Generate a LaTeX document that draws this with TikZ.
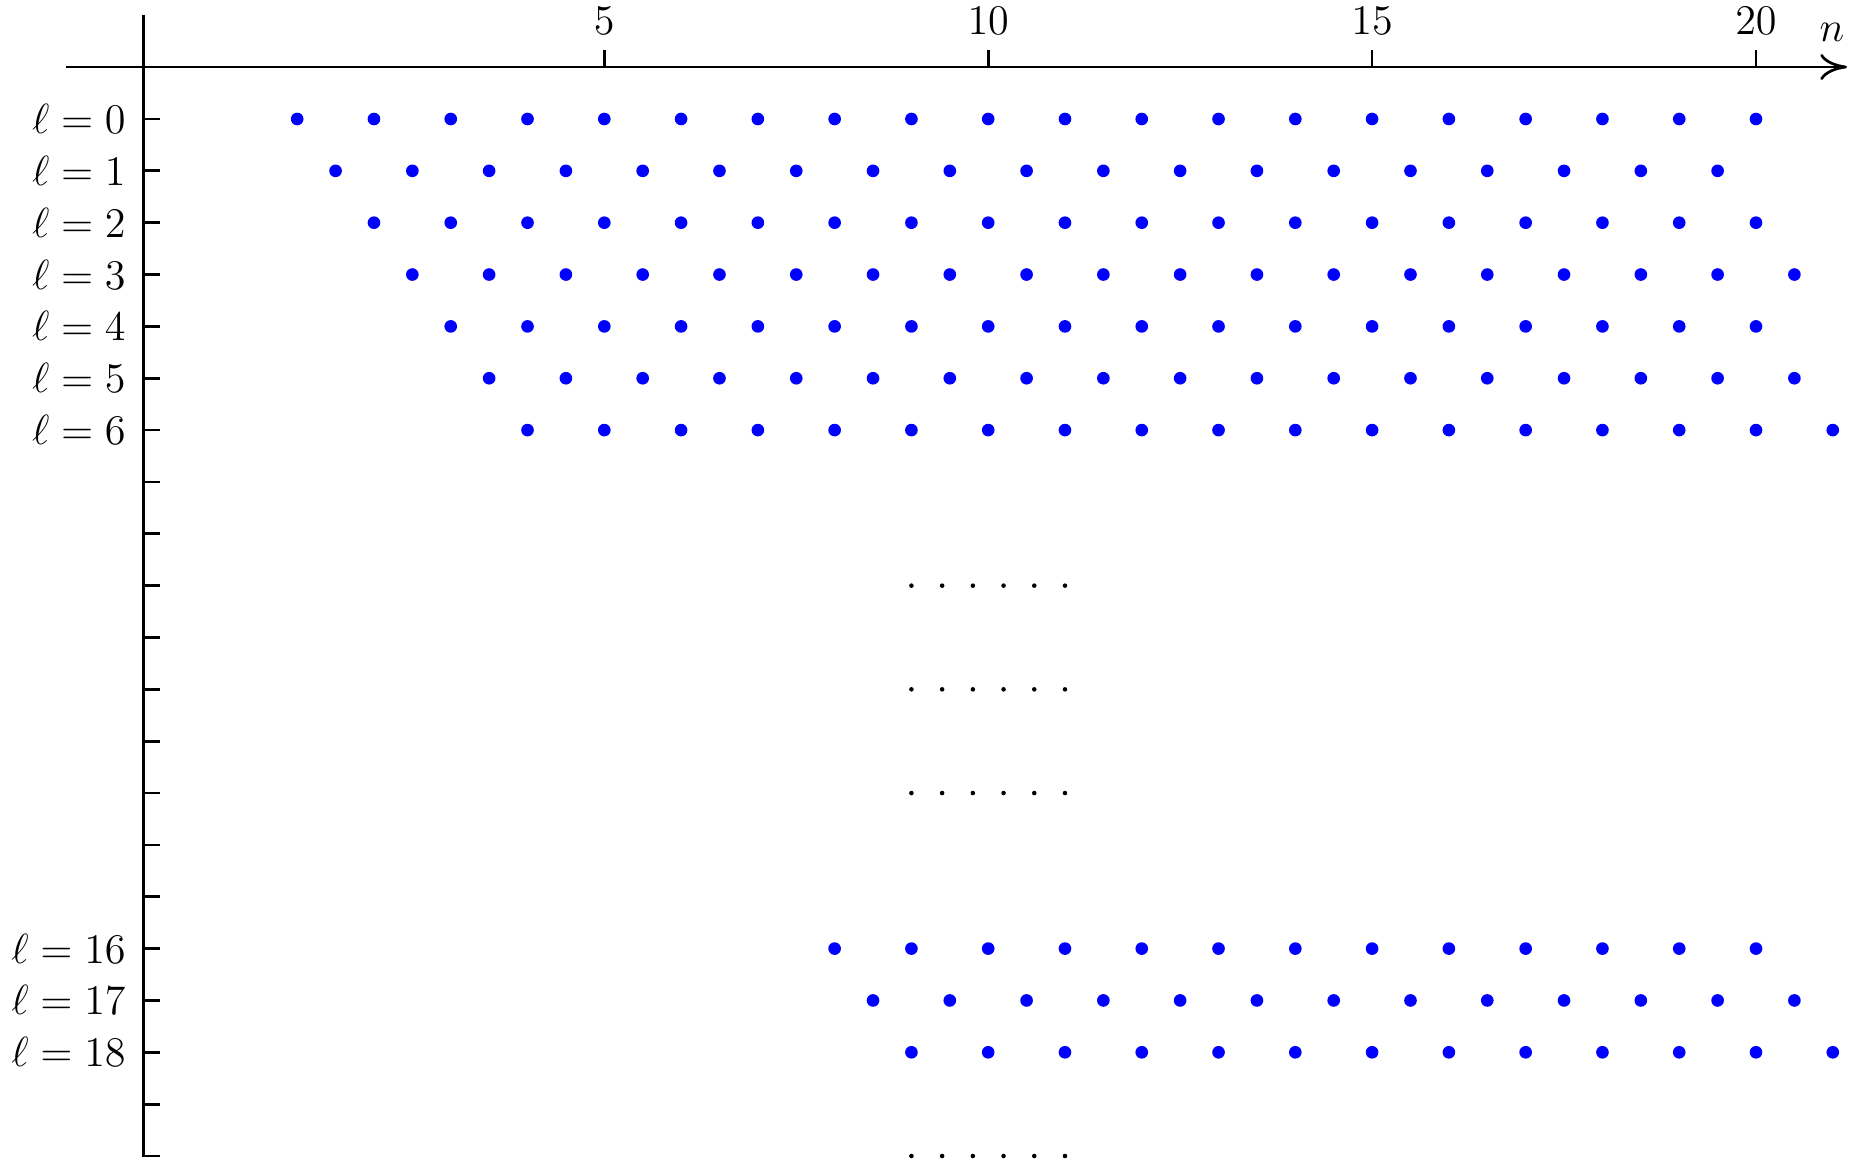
\documentclass[tikz,border=0pt]{standalone}
\usetikzlibrary{arrows.meta}
\begin{document}
\begin{tikzpicture}[x=0.01cm,y=-0.01cm,line width=0.77pt,
  bdot/.style={fill=blue},
  kdot/.style={fill=black},
  lab/.style={font=\fontsize{12.3}{14}\selectfont,inner sep=0pt}]
\useasboundingbox (0,0) rectangle (1859,1167);
\def\XO{220.4}\def\XU{76.78}\def\YO{119}\def\YU{51.85}
% axes
\coordinate (hs) at (66,67);
\coordinate (he) at (1847,67);
\coordinate (vs) at (143.3,15);
\coordinate (ve) at (143.3,1157);
\draw[-{Computer Modern Rightarrow[length=7.6pt,width=7.4pt]}] (hs) -- (he);
\draw (vs) -- (ve);
% x ticks
\foreach \n in {5,10,15,20}{
  \draw ({\XO+\XU*\n},67) -- ++(0,-17);
  \node[lab,anchor=base] (xt\n) at ({\XO+\XU*\n},35) {$\n$};
}
\node[lab,anchor=base] (nlab) at (1832,41.7) {$n$};
% y ticks
\foreach \j in {0,...,20}{
  \draw (143.3,{\YO+\YU*\j}) -- ++(17,0);
}
% row labels
\foreach \j in {0,1,2,3,4,5,6,16,17,18}{
  \node[lab,anchor=base east] (l\j) at (127,{\YO+\YU*\j+14.5}) {$\ell = \j$};
}
% blue dots
\foreach \l/\s/\k in {0/1/19,1/1.5/18,2/2/18,3/2.5/18,4/3/17,5/3.5/17,6/4/17,16/8/12,17/8.5/12,18/9/12}{
  \foreach \i in {0,...,\k}{
    \fill[bdot] ({\XO+\XU*(\s+\i)},{\YO+\YU*\l}) circle (1.8pt);
  }
}
% black dots
\foreach \j in {9,11,13,20}{
  \foreach \i in {0,...,5}{
    \fill[kdot] ({\XO+\XU*(9+0.4*\i)},{\YO+\YU*\j}) circle (0.65pt);
  }
}
\end{tikzpicture}
\end{document}
